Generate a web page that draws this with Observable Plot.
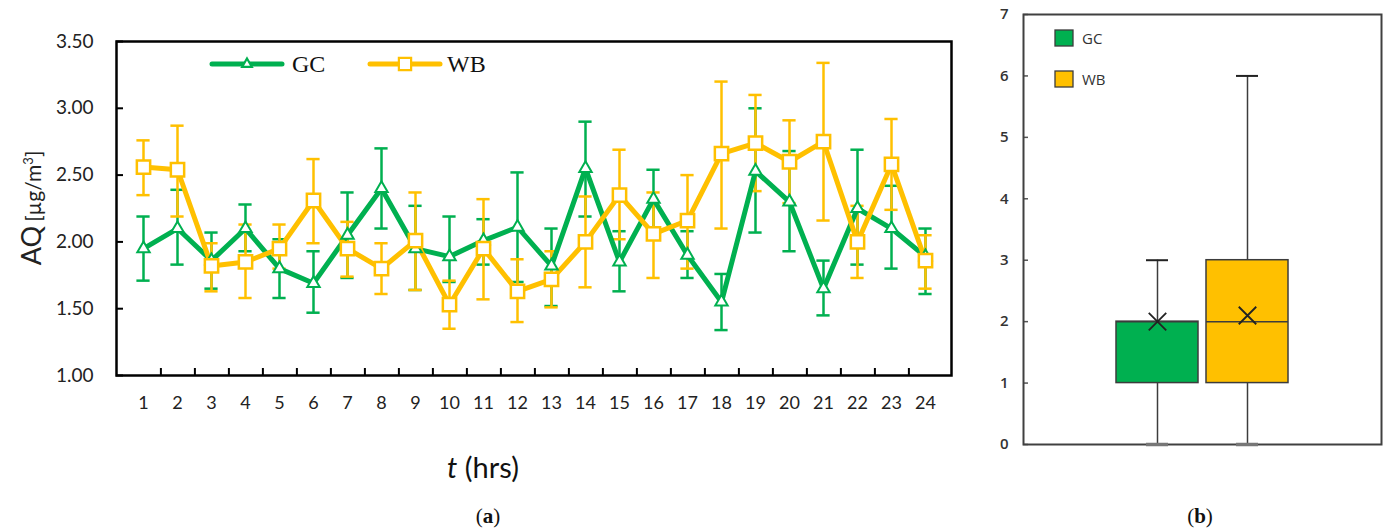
<!DOCTYPE html>
<html>
<head>
<meta charset="utf-8">
<script src="https://cdn.jsdelivr.net/npm/d3@7"></script>
<script src="https://cdn.jsdelivr.net/npm/@observablehq/plot@0.6"></script>
<style>
  html, body { margin: 0; padding: 0; background: #fff; }
  #page { position: relative; width: 1390px; height: 531px; overflow: hidden; font-family: Lato, "Open Sans", sans-serif; }
  .abs { position: absolute; }
  #left { left: 0; top: 0; }
  #right { left: 960px; top: 0; }
  #ylab { left: 30px; top: 208px; transform: translate(-50%, -50%) rotate(-90deg); white-space: nowrap; color: #222; }
  #xlab { left: 483px; top: 449px; transform: translateX(-50%); font-size: 29px; white-space: nowrap; color: #111; }
  .cap { font-family: "Liberation Serif", "DejaVu Serif", serif; font-size: 21px; color: #111; transform: translateX(-50%); white-space: nowrap; }
  .legtext { font-family: "Liberation Serif", serif; font-size: 24px; fill: #111; }
  .rlegtext { font-family: "Open Sans", Lato, sans-serif; font-size: 15px; fill: #333; }
</style>
</head>
<body>
<div id="page">
  <div id="left" class="abs"></div>
  <div id="right" class="abs"></div>
  <div id="ylab" class="abs"><span style="font-size:27px">AQ</span> <span style="font-size:21px">[µg/m<sup style="font-size:13px">3</sup>]</span></div>
  <div id="xlab" class="abs"><i>t</i> (hrs)</div>
  <div class="abs cap" style="left:488px; top:504px">(<b>a</b>)</div>
  <div class="abs cap" style="left:1200px; top:504px">(<b>b</b>)</div>
  <svg class="abs" style="left:0;top:0" width="1390" height="531" id="legends"></svg>
</div>
<script>
// ---- Panel (a) data ----
const hours = [1,2,3,4,5,6,7,8,9,10,11,12,13,14,15,16,17,18,19,20,21,22,23,24];
const gcMean = [1.95,2.10,1.86,2.10,1.80,1.69,2.05,2.40,1.95,1.89,2.01,2.11,1.82,2.55,1.85,2.32,1.90,1.55,2.53,2.30,1.65,2.25,2.10,1.89];
const gcLo   = [1.71,1.83,1.65,1.93,1.58,1.47,1.73,2.10,1.64,1.70,1.83,1.70,1.52,2.19,1.63,2.10,1.73,1.34,2.07,1.93,1.45,1.83,1.80,1.61];
const gcHi   = [2.19,2.39,2.07,2.28,2.02,1.93,2.37,2.70,2.27,2.19,2.17,2.52,2.10,2.90,2.08,2.54,2.08,1.76,3.00,2.68,1.86,2.69,2.42,2.10];
const wbMean = [2.56,2.54,1.82,1.85,1.95,2.31,1.95,1.80,2.01,1.53,1.95,1.63,1.72,2.00,2.35,2.06,2.16,2.66,2.74,2.60,2.75,2.00,2.58,1.86];
const wbLo   = [2.35,2.19,1.63,1.58,1.80,1.99,1.74,1.61,1.64,1.35,1.57,1.40,1.51,1.66,2.02,1.73,1.80,2.10,2.38,2.29,2.16,1.73,2.24,1.65];
const wbHi   = [2.76,2.87,1.99,2.13,2.13,2.62,2.15,1.99,2.37,1.71,2.32,1.87,1.93,2.34,2.69,2.37,2.50,3.20,3.10,2.91,3.34,2.27,2.92,2.05];
const yTicksA = [1.00,1.50,2.00,2.50,3.00,3.50];

// ---- Panel (b) data ----
const groups  = ["GC","WB"];
const boxMin  = [0,0];
const boxQ1   = [1,1];
const boxMed  = [2,2];
const boxQ3   = [2,3];
const boxMax  = [3,6];
const boxMean = [2.0,2.1];
const yTicksB = [0,1,2,3,4,5,6,7];

const GREEN = "#00B050", YELLOW = "#FFC000";

const gc = hours.map((h,i) => ({hour: h, v: gcMean[i], lo: gcLo[i], hi: gcHi[i]}));
const wb = hours.map((h,i) => ({hour: h, v: wbMean[i], lo: wbLo[i], hi: wbHi[i]}));

// Panel (a)
const W = 960, H = 480, mL = 116, mR = 9, mT = 41, mB = 105;
const frameW = W - mL - mR, frameH = H - mT - mB;
const step = frameW / hours.length;
const capInset = (step - 14) / 2;

const plotA = Plot.plot({
  width: W, height: H,
  marginLeft: mL, marginRight: mR, marginTop: mT, marginBottom: mB,
  style: {fontFamily: "Lato, sans-serif", color: "#222", background: "transparent"},
  x: {type: "band", domain: hours, padding: 0, axis: null},
  y: {domain: [1, 3.5], axis: null},
  marks: [
    Plot.axisY(yTicksA, {tickSize: 0, tickPadding: 23, fontSize: 19, tickFormat: d => d.toFixed(2), label: null}),
    Plot.axisX(hours, {tickSize: 0, tickPadding: 21, fontSize: 18, label: null}),
    // inward ticks
    Plot.tickY(yTicksA, {y: d => d, insetRight: frameW - 7, stroke: "#000", strokeWidth: 2}),
    Plot.tickX(hours.slice(0, -1), {x: d => d, dx: step / 2, insetTop: frameH - 7, stroke: "#000", strokeWidth: 2}),
    // error bars
    Plot.ruleX(gc, {x: "hour", y1: "lo", y2: "hi", stroke: GREEN, strokeWidth: 2.5}),
    Plot.tickY(gc, {x: "hour", y: "lo", insetLeft: capInset, insetRight: capInset, stroke: GREEN, strokeWidth: 2.5}),
    Plot.tickY(gc, {x: "hour", y: "hi", insetLeft: capInset, insetRight: capInset, stroke: GREEN, strokeWidth: 2.5}),
    Plot.ruleX(wb, {x: "hour", y1: "lo", y2: "hi", stroke: YELLOW, strokeWidth: 2.5}),
    Plot.tickY(wb, {x: "hour", y: "lo", insetLeft: capInset, insetRight: capInset, stroke: YELLOW, strokeWidth: 2.5}),
    Plot.tickY(wb, {x: "hour", y: "hi", insetLeft: capInset, insetRight: capInset, stroke: YELLOW, strokeWidth: 2.5}),
    // lines
    Plot.lineY(gc, {x: "hour", y: "v", stroke: GREEN, strokeWidth: 5, strokeLinejoin: "round"}),
    Plot.lineY(wb, {x: "hour", y: "v", stroke: YELLOW, strokeWidth: 5, strokeLinejoin: "round"}),
    // markers
    Plot.dot(gc, {x: "hour", y: "v", symbol: "triangle", r: 4.6, fill: "white", stroke: GREEN, strokeWidth: 2}),
    Plot.dot(wb, {x: "hour", y: "v", symbol: "square", r: 7.5, fill: "white", stroke: YELLOW, strokeWidth: 2.5}),
    Plot.frame({stroke: "#000", strokeWidth: 2.5})
  ]
});
document.getElementById("left").appendChild(plotA);

// Panel (b)
const boxes = groups.map((g,i) => ({g, min: boxMin[i], q1: boxQ1[i], med: boxMed[i], q3: boxQ3[i], max: boxMax[i], mean: boxMean[i]}));
const WB_ = 430, HB = 531, bL = 63, bR = 9, bT = 14, bB = 87;
const frameBW = WB_ - bL - bR;
const DARK = "#3c3c3c";
const plotB = Plot.plot({
  width: WB_, height: HB,
  marginLeft: bL, marginRight: bR, marginTop: bT, marginBottom: bB,
  style: {fontFamily: "'Open Sans', sans-serif", color: "#333", background: "transparent"},
  x: {type: "band", domain: groups, paddingInner: 0.09, paddingOuter: 1.02, axis: null},
  y: {domain: [0, 7], axis: null},
  color: {type: "ordinal", domain: groups, range: [GREEN, YELLOW]},
  marks: [
    Plot.axisY(yTicksB, {tickSize: 0, tickPadding: 15, fontSize: 15, fontWeight: 600, tickFormat: d => String(d), label: null}),
    Plot.tickY(yTicksB, {y: d => d, insetRight: frameBW - 5, stroke: "#555", strokeWidth: 1.5}),
    // whiskers
    Plot.ruleX(boxes, {x: "g", y1: "min", y2: "q1", stroke: DARK, strokeWidth: 1.5}),
    Plot.ruleX(boxes, {x: "g", y1: "q3", y2: "max", stroke: DARK, strokeWidth: 1.5}),
    Plot.tickY(boxes, {x: "g", y: "max", insetLeft: 30, insetRight: 30, stroke: "#222", strokeWidth: 2}),
    // boxes
    Plot.barY(boxes, {x: "g", y1: "q1", y2: "q3", fill: "g", stroke: DARK, strokeWidth: 1.5}),
    Plot.tickY(boxes, {x: "g", y: "med", stroke: DARK, strokeWidth: 1.5}),
    Plot.dot(boxes, {x: "g", y: "mean", symbol: "times", r: 8, stroke: "#222", strokeWidth: 1.8}),
    Plot.frame({stroke: "#404040", strokeWidth: 2}),
    Plot.tickY(boxes, {x: "g", y: "min", insetLeft: 30, insetRight: 30, stroke: "#777", strokeWidth: 3.5})
  ]
});
document.getElementById("right").appendChild(plotB);

// Legends (HTML overlay)
const svg = d3.select("#legends");
const legA = [
  {name: "GC", color: GREEN, sym: d3.symbolTriangle, size: 40, x0: 212, x1: 282, text: 292},
  {name: "WB", color: YELLOW, sym: d3.symbolSquare, size: 150, x0: 370, x1: 440, text: 447}
];
legA.forEach(l => {
  svg.append("line").attr("x1", l.x0).attr("x2", l.x1).attr("y1", 64).attr("y2", 64)
    .attr("stroke", l.color).attr("stroke-width", 5).attr("stroke-linecap", "round");
  svg.append("path").attr("d", d3.symbol(l.sym, l.size)()).attr("transform", `translate(${(l.x0 + l.x1) / 2},64)`)
    .attr("fill", "white").attr("stroke", l.color).attr("stroke-width", 2.2);
  svg.append("text").attr("class", "legtext").attr("x", l.text).attr("y", 72).text(l.name);
});
const legB = [{name: "GC", color: GREEN, y: 30}, {name: "WB", color: YELLOW, y: 71}];
legB.forEach(l => {
  svg.append("rect").attr("x", 1055).attr("y", l.y).attr("width", 18).attr("height", 16)
    .attr("fill", l.color).attr("stroke", DARK).attr("stroke-width", 1.3);
  svg.append("text").attr("class", "rlegtext").attr("x", 1082).attr("y", l.y + 14).text(l.name);
});
</script>
</body>
</html>
